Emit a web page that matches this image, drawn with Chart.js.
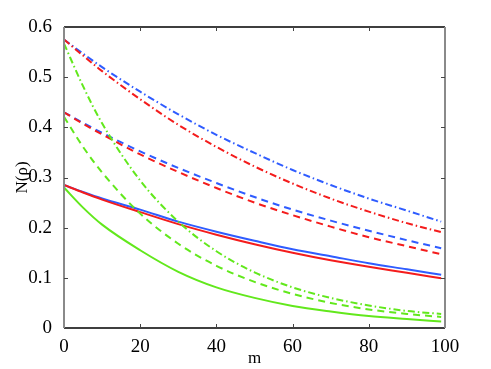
<!DOCTYPE html>
<html>
<head>
<meta charset="utf-8">
<script src="https://cdn.jsdelivr.net/npm/chart.js@4.4.1/dist/chart.umd.min.js"></script>
<style>
  html, body { margin: 0; padding: 0; background: #fff; }
  #wrap { width: 491px; height: 369px; }
</style>
</head>
<body>
<div id="wrap"><canvas id="grafica" width="491" height="369"></canvas></div>
<script>
// valores
const mValues = [0, 5, 10, 20, 30, 40, 50, 60, 70, 80, 90, 99];

const azulSolida   = [0.285, 0.271, 0.258, 0.236, 0.212, 0.192, 0.174, 0.157, 0.143, 0.129, 0.117, 0.106];
const rojaSolida   = [0.285, 0.270, 0.256, 0.231, 0.207, 0.186, 0.167, 0.150, 0.135, 0.122, 0.110, 0.099];
const verdeSolida  = [0.280, 0.240, 0.206, 0.155, 0.112, 0.081, 0.060, 0.044, 0.033, 0.024, 0.018, 0.013];

const azulGuion    = [0.430, 0.409, 0.389, 0.352, 0.319, 0.289, 0.261, 0.236, 0.214, 0.194, 0.175, 0.159];
const rojaGuion    = [0.430, 0.407, 0.386, 0.346, 0.311, 0.279, 0.250, 0.225, 0.202, 0.181, 0.163, 0.147];
const verdeGuion   = [0.421, 0.361, 0.310, 0.228, 0.168, 0.124, 0.092, 0.068, 0.050, 0.037, 0.028, 0.022];

const azulPunto    = [0.575, 0.547, 0.520, 0.471, 0.426, 0.385, 0.349, 0.315, 0.285, 0.258, 0.234, 0.212];
const rojaPunto    = [0.575, 0.543, 0.512, 0.456, 0.405, 0.361, 0.322, 0.288, 0.258, 0.232, 0.209, 0.191];
const verdePunto   = [0.567, 0.482, 0.408, 0.294, 0.212, 0.153, 0.111, 0.081, 0.060, 0.045, 0.034, 0.028];

const xTicks = [0, 20, 40, 60, 80, 100];
const yTickLabels = ['0', '0.1', '0.2', '0.3', '0.4', '0.5', '0.6'];

const AZUL = '#2f5cff';
const ROJO = '#f41c1c';
const VERDE = '#62e81c';
const GUION = [7, 5];
const PUNTO = [7, 3, 1.5, 3];

function serie(valores, color, dash) {
    return {
        data: mValues.map((m, i) => ({ x: m, y: valores[i] })),
        borderColor: color,
        borderWidth: 2,
        borderDash: dash,
        pointRadius: 0,
        fill: false,
        cubicInterpolationMode: 'monotone'
    };
}

// marco con marcas hacia dentro
const marco = {
    id: 'marco',
    afterDraw(chart) {
        const { ctx, chartArea: a, scales } = chart;
        ctx.save();
        ctx.lineWidth = 1.5;
        ctx.strokeStyle = '#000';
        ctx.beginPath();
        ctx.moveTo(a.left, a.top); ctx.lineTo(a.right, a.top);
        ctx.moveTo(a.left, a.bottom); ctx.lineTo(a.right, a.bottom);
        ctx.stroke();
        ctx.lineWidth = 2;
        ctx.strokeStyle = '#8a8a8a';
        ctx.beginPath();
        ctx.moveTo(a.left, a.top); ctx.lineTo(a.left, a.bottom);
        ctx.moveTo(a.right, a.top); ctx.lineTo(a.right, a.bottom);
        ctx.stroke();
        ctx.lineWidth = 1;
        ctx.strokeStyle = '#444';
        ctx.beginPath();
        xTicks.slice(1, -1).forEach(v => {
            const px = Math.round(scales.x.getPixelForValue(v)) + 0.5;
            ctx.moveTo(px, a.bottom); ctx.lineTo(px, a.bottom - 4);
            ctx.moveTo(px, a.top); ctx.lineTo(px, a.top + 4);
        });
        yTickLabels.slice(1, -1).forEach((t, i) => {
            const py = Math.round(scales.y.getPixelForValue((i + 1) / 10)) + 0.5;
            ctx.moveTo(a.right, py); ctx.lineTo(a.right - 4, py);
            ctx.moveTo(a.left, py); ctx.lineTo(a.left + 4, py);
        });
        ctx.stroke();
        ctx.restore();
    }
};

const fuente = { family: '"Liberation Serif", "Times New Roman", serif', size: 19 };

new Chart(document.getElementById('grafica').getContext('2d'), {
    type: 'line',
    data: {
        datasets: [
            serie(verdePunto, VERDE, PUNTO),
            serie(verdeGuion, VERDE, GUION),
            serie(verdeSolida, VERDE, []),
            serie(rojaPunto, ROJO, PUNTO),
            serie(rojaGuion, ROJO, GUION),
            serie(rojaSolida, ROJO, []),
            serie(azulPunto, AZUL, PUNTO),
            serie(azulGuion, AZUL, GUION),
            serie(azulSolida, AZUL, [])
        ]
    },
    options: {
        responsive: false,
        animation: false,
        layout: { padding: { left: 0, top: 27, right: 46, bottom: 0 } },
        plugins: { legend: { display: false }, tooltip: { enabled: false } },
        scales: {
            x: {
                type: 'linear',
                min: 0,
                max: 100,
                afterFit: s => { s.height = 41; },
                afterBuildTicks: s => { s.ticks = xTicks.map(v => ({ value: v })); },
                grid: { display: false },
                border: { display: false },
                ticks: { color: '#000', font: fuente, padding: 0, maxRotation: 0 },
                title: { display: true, text: 'm', color: '#000', font: { family: fuente.family, size: 17 }, padding: { top: 0, bottom: 0 } }
            },
            y: {
                min: 0,
                max: 0.6,
                afterFit: s => { s.width = 64; },
                afterBuildTicks: s => { s.ticks = yTickLabels.map((t, i) => ({ value: i / 10 })); },
                grid: { display: false },
                border: { display: false },
                ticks: {
                    color: '#000', font: fuente, padding: 4,
                    callback: (v, i) => yTickLabels[i]
                },
                title: { display: true, text: 'N(ρ)', color: '#000', font: { family: fuente.family, size: 17 }, padding: { top: 12, bottom: 4 } }
            }
        }
    },
    plugins: [marco]
});
</script>
</body>
</html>
